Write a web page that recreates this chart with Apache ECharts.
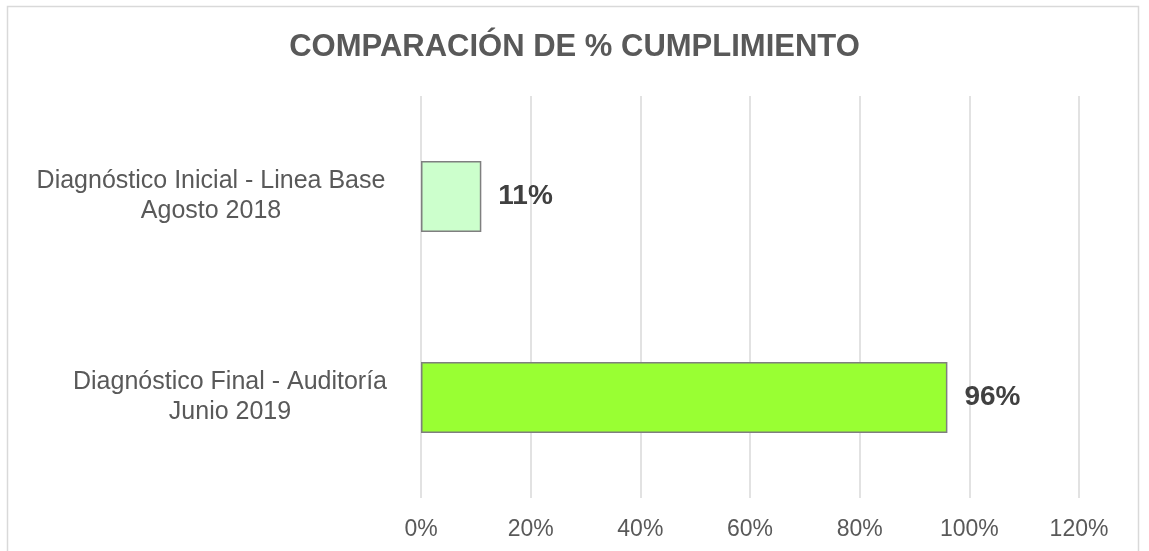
<!DOCTYPE html>
<html>
<head>
    <meta charset="utf-8">
    <title></title>
    <script src="https://cdn.jsdelivr.net/npm/echarts@6/dist/echarts.min.js"></script>
    <style>
        html, body { margin: 0; padding: 0; background: #fff; }
    </style>
</head>
<body>
    <div id="main" style="width: 1149px;height:551px;"></div>
    <script type="text/javascript">
var categories = ['Diagnóstico Inicial - Linea Base\nAgosto 2018', 'Diagnóstico Final - Auditoría\nJunio 2019']
var values = [0.11, 0.96]
var barColors = ['#ccffcc', '#99ff33']
var xTicks = [0, 0.2, 0.4, 0.6, 0.8, 1.0, 1.2]

var myChart = echarts.init(document.getElementById('main'))
var font = "'Liberation Sans', Arial, sans-serif"

var barData = []
for (var i = 0; i < values.length; i++) {
  barData.push({
    value: values[i],
    itemStyle: { color: barColors[i], borderColor: '#7f7f7f', borderWidth: 1.5 }
  })
}

var option = {
  backgroundColor: '#fff',
  animation: false,
  title: {
    text: 'COMPARACIÓN DE % CUMPLIMIENTO',
    left: 'center',
    top: 27,
    textStyle: { color: '#595959', fontSize: 31, fontWeight: 'bold', fontFamily: font }
  },
  graphic: [{
    type: 'rect',
    shape: { x: 7.5, y: 6.5, width: 1131, height: 600 },
    style: { fill: 'none', stroke: '#d9d9d9', lineWidth: 1.5 },
    silent: true
  }],
  grid: { left: 421, right: 70, top: 96, bottom: 53 },
  xAxis: {
    type: 'value',
    min: xTicks[0],
    max: xTicks[xTicks.length - 1],
    interval: xTicks[1] - xTicks[0],
    axisLine: { show: false },
    axisTick: { show: false },
    splitLine: { show: true, lineStyle: { color: '#d9d9d9', width: 1.5 } },
    axisLabel: {
      color: '#595959',
      fontSize: 23,
      fontFamily: font,
      margin: 20,
      formatter: function (v) { return Math.round(v * 100) + '%' }
    }
  },
  yAxis: {
    type: 'category',
    inverse: true,
    data: categories,
    axisLine: { show: false },
    axisTick: { show: false },
    axisLabel: {
      align: 'right',
      margin: 24,
      formatter: function (v, idx) {
        var key = 'l' + idx
        return v.split('\n').map(function (s) { return '{' + key + '|' + s + '}' }).join('\n')
      },
      rich: {
        l0: { width: 372, align: 'center', color: '#595959', fontSize: 25, lineHeight: 30, fontFamily: font },
        l1: { width: 334, align: 'center', color: '#595959', fontSize: 25, lineHeight: 30, fontFamily: font }
      }
    }
  },
  series: [{
    type: 'bar',
    barWidth: 71,
    data: barData,
    label: {
      show: true,
      position: 'right',
      distance: 17,
      color: '#404040',
      fontSize: 28,
      fontWeight: 'bold',
      fontFamily: font,
      formatter: function (p) { return Math.round(p.value * 100) + '%' }
    }
  }]
}
myChart.setOption(option)
    </script>
</body>
</html>
